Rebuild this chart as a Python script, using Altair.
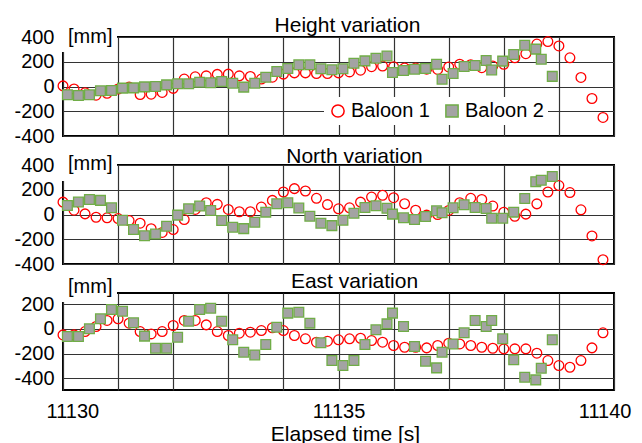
import altair as alt
import pandas as pd

FONT = "Liberation Sans"
SERIES = ["Baloon 1", "Baloon 2"]

# Balloon 1 sampled every 0.2 s from 11130.0 s
B1_T = [round(11130 + 0.2 * k, 1) for k in range(50)]
# Balloon 2 time stamps
B2_T = [11130.08, 11130.28, 11130.48, 11130.68, 11130.88, 11131.08, 11131.28, 11131.48,
        11131.68, 11131.88, 11132.08, 11132.28, 11132.48, 11132.68, 11132.88, 11133.08,
        11133.28, 11133.48, 11133.68, 11133.88, 11134.08, 11134.28, 11134.48, 11134.68,
        11134.88, 11135.08, 11135.28, 11135.48, 11135.68, 11135.88, 11135.98, 11136.18,
        11136.38, 11136.58, 11136.78, 11136.88, 11137.08, 11137.28, 11137.48, 11137.68,
        11137.78, 11137.98, 11138.18, 11138.38, 11138.58, 11138.68, 11138.88]

H1 = [5, -20, -50, -70, -55, -20, -5, -65, -62, -48, -15, 60, 78, 86, 98, 100, 86, 81, 60, 75,
      100, 110, 110, 105, 105, 110, 118, 132, 160, 165, 160, 150, 150, 140, 138, 158, 180, 176,
      152, 165, 180, 232, 265, 343, 363, 328, 232, 73, -97, -250]
H2 = [-67, -73, -67, -35, -32, -13, -11, -3, 0, 13, 22, 22, 35, 30, 40, 27, -5, 27, 75, 121,
      145, 175, 175, 143, 135, 143, 188, 207, 229, 247, 113, 129, 140, 145, 180, 59, 105, 161,
      169, 210, 134, 205, 258, 333, 302, 220, 82]

N1 = [100, 35, 5, -22, -27, -33, -49, -70, -115, -145, -122, -41, 41, 95, 82, 41, 22, 22, 60,
      114, 182, 209, 190, 131, 80, 46, 54, 100, 141, 155, 136, 87, 35, -5, 0, 33, 95, 131, 122,
      68, 18, -14, 3, 86, 182, 234, 177, 38, -173, -365]
N2 = [73, 101, 122, 114, 54, -46, -122, -171, -158, -95, -5, 46, 68, 33, -49, -103, -114, -63,
      19, 87, 95, 52, -14, -70, -90, -46, 10, 57, 70, 50, 3, -27, -41, -16, 30, 14, 54, 79, 57,
      48, -30, -30, 19, 130, 265, 277, 307]

E1 = [-49, -49, -22, 19, 68, 81, 46, -22, -41, -22, 27, 68, 68, 32, -22, -54, -35, -27, -14, 8,
      -14, -54, -81, -108, -100, -89, -81, -76, -95, -108, -135, -149, -149, -154, -135, -116,
      -122, -135, -149, -157, -162, -162, -162, -197, -257, -297, -311, -257, -154, -32]
E2 = [-62, -62, 0, 81, 157, 143, 49, -59, -157, -157, -68, 62, 157, 167, 62, -89, -189, -211,
      -127, 13, 127, 135, 46, -113, -257, -297, -257, -127, -8, 40, 127, 19, -143, -262, -316,
      -189, -122, -32, 68, 19, 68, -81, -251, -392, -413, -319, -89]

X_TICKS = list(range(11130, 11141))
Y_TICKS_A = [-400, -200, 0, 200, 400]
Y_TICKS_B = [-400, -200, 0, 200]

W = 551
GRID = "#333333"
GW = 1.2
YLABEL = "datum.value < 0 ? '-' + abs(datum.value) : '' + datum.value"


def panel(title, b1, b2, ydomain, yticks, height, show_x, show_legend, tdx, toff, mm_y, box_h):
    df = pd.DataFrame({
        "t": B1_T + B2_T,
        "v": b1 + b2,
        "s": [SERIES[0]] * len(b1) + [SERIES[1]] * len(b2),
    })
    if show_x:
        xaxis = alt.Axis(values=X_TICKS, grid=True, gridColor=GRID, gridWidth=GW,
                         domain=False, ticks=False, tickSize=0, format="d",
                         labelExpr="datum.value % 5 === 0 ? '' + datum.value : ''",
                         labelFlush=True, labelFlushOffset=17, labelFontSize=20,
                         labelColor="black", labelBaseline="alphabetic", labelPadding=27,
                         title="Elapsed time [s]", titleFontSize=21, titleFontWeight="normal",
                         titleColor="black", titleX=282, titleY=50, titleBaseline="alphabetic")
    else:
        xaxis = alt.Axis(values=X_TICKS, grid=True, gridColor=GRID, gridWidth=GW,
                         domain=False, ticks=False, tickSize=0, labels=False, title=None)
    yaxis = alt.Axis(values=yticks, grid=True, gridColor=GRID, gridWidth=GW,
                     domain=False, ticks=False, tickSize=0, labelPadding=9, labelFontSize=20,
                     labelColor="black", labelExpr=YLABEL, title=None)
    if show_legend:
        leg = alt.Legend(orient="none", legendX=261, legendY=60, direction="horizontal",
                         fillColor="white", title=None, labelFontSize=20, labelFont=FONT,
                         labelColor="black", symbolSize=150, symbolStrokeWidth=1.5,
                         padding=4, columnPadding=12, labelOffset=3)
    else:
        leg = None
    pts = alt.Chart(df).mark_point(filled=True, size=95, strokeWidth=1.3, opacity=1).encode(
        x=alt.X("t:Q", scale=alt.Scale(domain=[11130, 11140], nice=False, zero=False), axis=xaxis),
        y=alt.Y("v:Q", scale=alt.Scale(domain=ydomain, nice=False, zero=False), axis=yaxis),
        shape=alt.Shape("s:N", scale=alt.Scale(domain=SERIES, range=["circle", "square"]), legend=leg),
        fill=alt.Fill("s:N", scale=alt.Scale(domain=SERIES, range=["transparent", "#a3a3a3"]), legend=leg),
        stroke=alt.Stroke("s:N", scale=alt.Scale(domain=SERIES, range=["#ff0000", "#70ad47"]), legend=leg),
    )
    dummy = pd.DataFrame({"a": [0]})
    box = alt.Chart(dummy).mark_rect(fill="white").encode(
        x=alt.value(-2), x2=alt.value(54), y=alt.value(-3), y2=alt.value(box_h))
    mm = alt.Chart(dummy).mark_text(text="[mm]", align="left", baseline="alphabetic",
                                     fontSize=20, font=FONT, color="black").encode(
        x=alt.value(5), y=alt.value(mm_y))
    return alt.layer(box, mm, pts).properties(
        width=W, height=height,
        title=alt.TitleParams(title, fontSize=21, font=FONT, fontWeight="normal", color="black",
                              anchor="middle", dx=tdx, offset=toff, baseline="alphabetic"))


p1 = panel("Height variation", H1, H2, [-400, 400], Y_TICKS_A, 99, False, True, 9, -26, 6, 15)
p2 = panel("North variation", N1, N2, [-400, 400], Y_TICKS_A, 99, False, False, 16, -30, 5, 16)
p3 = panel("East variation", E1, E2, [-495, 290], Y_TICKS_B, 97, True, False, 16, -32, 0, 9)

chart = alt.vconcat(p1, p2, p3, spacing=29, bounds="flush").resolve_scale(
    y="independent").resolve_legend(
    shape="independent", fill="independent", stroke="independent").configure_view(
    stroke="black", strokeWidth=2).configure_axis(labelFont=FONT, titleFont=FONT).properties(
    padding={"left": 12, "top": 14, "right": 5, "bottom": 5})

chart.save("out.html", embed_options={"renderer": "svg", "actions": False})
